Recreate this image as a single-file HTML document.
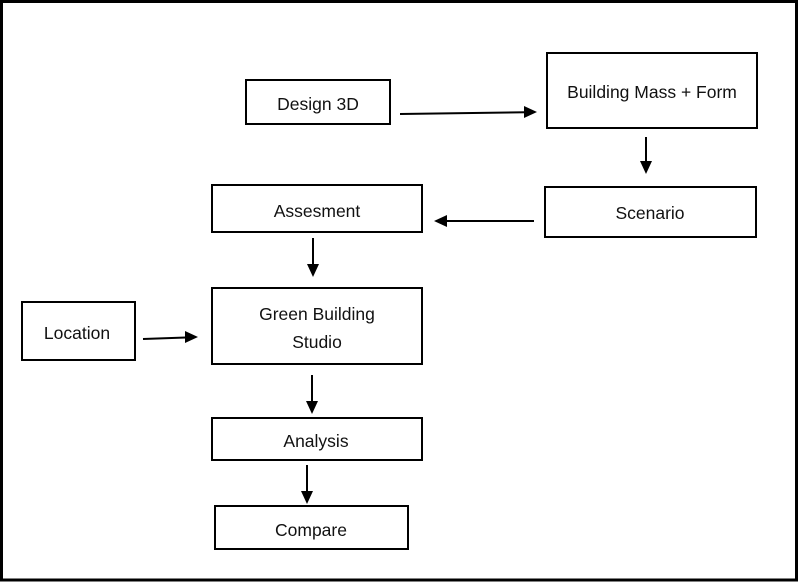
<!DOCTYPE html>
<html>
<head>
<meta charset="utf-8">
<style>
  html, body { margin: 0; padding: 0; background: #fff; }
  body { width: 800px; height: 582px; overflow: hidden; position: relative; }
  svg { position: absolute; left: 0; top: 0; }
  text { font-family: "Liberation Sans", "DejaVu Sans", sans-serif; font-size: 17.5px; fill: #111; }
</style>
</head>
<body>
<svg width="800" height="582" viewBox="0 0 800 582" xmlns="http://www.w3.org/2000/svg">
  <!-- outer frame -->
  <rect x="1.5" y="1.5" width="795" height="578.5" fill="none" stroke="#000" stroke-width="3"/>

  <g fill="#fff" stroke="#000" stroke-width="2">
    <rect x="246" y="80" width="144" height="44"/>
    <rect x="547" y="53" width="210" height="75"/>
    <rect x="545" y="187" width="211" height="50"/>
    <rect x="212" y="185" width="210" height="47"/>
    <rect x="212" y="288" width="210" height="76"/>
    <rect x="22" y="302" width="113" height="58"/>
    <rect x="212" y="418" width="210" height="42"/>
    <rect x="215" y="506" width="193" height="43"/>
  </g>

  <!-- connectors -->
  <g stroke="#000" stroke-width="2" fill="none">
    <line x1="400" y1="114" x2="526" y2="112.3"/>
    <line x1="646" y1="137" x2="646" y2="162"/>
    <line x1="534" y1="221" x2="446" y2="221"/>
    <line x1="313" y1="238" x2="313" y2="265"/>
    <line x1="143" y1="339" x2="186" y2="337.5"/>
    <line x1="312" y1="375" x2="312" y2="402"/>
    <line x1="307" y1="465" x2="307" y2="492"/>
  </g>
  <g fill="#000">
    <polygon points="537,112 524,106 524,118"/>
    <polygon points="646,174 640,161 652,161"/>
    <polygon points="434,221 447,215 447,227"/>
    <polygon points="313,277 307,264 319,264"/>
    <polygon points="198,337 185,331 185,343"/>
    <polygon points="312,414 306,401 318,401"/>
    <polygon points="307,504 301,491 313,491"/>
  </g>

  <!-- labels -->
  <g text-anchor="middle">
    <text x="318" y="110">Design 3D</text>
    <text x="652" y="98">Building Mass + Form</text>
    <text x="650" y="219">Scenario</text>
    <text x="317" y="217">Assesment</text>
    <text x="317" y="320">Green Building</text>
    <text x="317" y="348">Studio</text>
    <text x="77" y="339">Location</text>
    <text x="316" y="447">Analysis</text>
    <text x="311" y="536">Compare</text>
  </g>
</svg>
</body>
</html>
